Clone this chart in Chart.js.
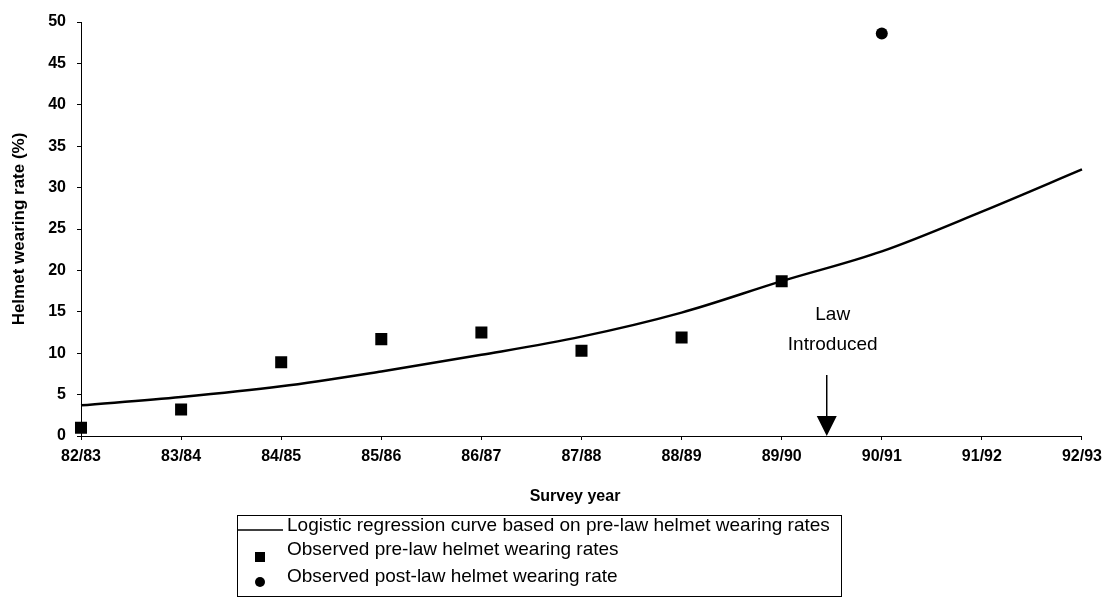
<!DOCTYPE HTML>
<html lang="en">
<head>
    <meta charset="UTF-8">
    <title>Helmet wearing rates</title>
    <script src="https://cdn.jsdelivr.net/npm/chart.js"></script>
    <style>
        body {
            margin: 0;
            padding: 0;
            background-color: #fff;
        }
        #wrap {
            position: relative;
            width: 1109px;
            height: 601px;
        }
    </style>
</head>
<body>
<div id="wrap">
    <canvas id="myChart" width="1109" height="601"></canvas>
</div>

<script>
    // Survey years (x categories)
    var years = ['82/83', '83/84', '84/85', '85/86', '86/87', '87/88', '88/89', '89/90', '90/91', '91/92', '92/93'];
    // Logistic regression curve
    var curve = [3.7, 4.7, 6.0, 7.8, 9.8, 12.0, 14.9, 18.7, 22.3, 27.1, 32.2];
    // Observed pre-law rates
    var preLaw = [1.0, 3.2, 8.9, 11.7, 12.5, 10.3, 11.9, 18.7, null, null, null];
    // Observed post-law rate
    var postLaw = [null, null, null, null, null, null, null, null, 48.6, null, null];
    // y ticks
    var yTicks = [0, 5, 10, 15, 20, 25, 30, 35, 40, 45, 50];
    // where the law came in (between 89/90 and 90/91)
    var lawAt = 7.45;

    var legendItems = [
        'Logistic regression curve based on pre-law helmet wearing rates',
        'Observed pre-law helmet wearing rates',
        'Observed post-law helmet wearing rate'
    ];

    // Подписи осей, стрелка "Law Introduced" и легенда
    var extras = {
        id: 'extras',
        afterDraw: function(chart) {
            var c = chart.ctx;
            var x = chart.scales.x;
            var y = chart.scales.y;
            c.save();
            c.fillStyle = '#000';
            c.strokeStyle = '#000';

            // axis titles
            c.font = 'bold 16px "Liberation Sans", Arial, sans-serif';
            c.textAlign = 'center';
            c.textBaseline = 'middle';
            c.fillText('Survey year', 575, 497);
            c.save();
            c.font = 'bold 17px "Liberation Sans", Arial, sans-serif';
            c.translate(19, (chart.chartArea.top + chart.chartArea.bottom) / 2);
            c.rotate(-Math.PI / 2);
            c.fillText('Helmet wearing rate (%)', 0, 0);
            c.restore();

            // law arrow
            var ax = x.getPixelForValue(lawAt);
            var ay = y.getPixelForValue(0);
            c.font = '19px "Liberation Sans", Arial, sans-serif';
            c.fillText('Law', ax + 6, 315);
            c.fillText('Introduced', ax + 6, 345);
            c.lineWidth = 1.5;
            c.beginPath();
            c.moveTo(ax, 375);
            c.lineTo(ax, ay - 18);
            c.stroke();
            c.beginPath();
            c.moveTo(ax - 10, ay - 20);
            c.lineTo(ax + 10, ay - 20);
            c.lineTo(ax, ay);
            c.closePath();
            c.fill();

            // legend box
            c.lineWidth = 1;
            c.strokeRect(237.5, 515.5, 604, 81);
            c.font = '19px "Liberation Sans", Arial, sans-serif';
            c.textAlign = 'left';
            c.fillText(legendItems[0], 287, 526);
            c.fillText(legendItems[1], 287, 550);
            c.fillText(legendItems[2], 287, 577);
            c.lineWidth = 1.5;
            c.beginPath();
            c.moveTo(238, 530);
            c.lineTo(283, 530);
            c.stroke();
            c.fillRect(255, 552, 10, 10);
            c.beginPath();
            c.arc(260, 582, 5, 0, Math.PI * 2);
            c.fill();
            c.restore();
        }
    };

    var ctx = document.getElementById('myChart').getContext('2d');
    var myChart = new Chart(ctx, {
        type: 'line',
        data: {
            labels: years,
            datasets: [
                {
                    label: legendItems[0],
                    data: curve,
                    borderColor: '#000',
                    borderWidth: 2.5,
                    pointRadius: 0,
                    cubicInterpolationMode: 'monotone'
                },
                {
                    label: legendItems[1],
                    data: preLaw,
                    showLine: false,
                    pointStyle: 'rect',
                    pointRadius: 8.5,
                    backgroundColor: '#000',
                    borderColor: '#000',
                    borderWidth: 0
                },
                {
                    label: legendItems[2],
                    data: postLaw,
                    showLine: false,
                    pointStyle: 'circle',
                    pointRadius: 6,
                    backgroundColor: '#000',
                    borderColor: '#000',
                    borderWidth: 0
                }
            ]
        },
        options: {
            responsive: false,
            animation: false,
            layout: {
                padding: { top: 22, right: 27, bottom: 105, left: 0 }
            },
            plugins: {
                legend: { display: false },
                tooltip: { enabled: false }
            },
            scales: {
                x: {
                    offset: false,
                    afterFit: function(scale) { scale.height = 60; },
                    grid: { drawOnChartArea: false, color: '#000', tickLength: 4 },
                    border: { color: '#000', width: 1 },
                    ticks: {
                        color: '#000',
                        padding: 7,
                        maxRotation: 0,
                        autoSkip: false,
                        font: { family: '"Liberation Sans", Arial, sans-serif', size: 16, weight: 'bold' }
                    }
                },
                y: {
                    min: 0,
                    max: 50,
                    afterFit: function(scale) { scale.width = 81; },
                    afterBuildTicks: function(scale) {
                        scale.ticks = yTicks.map(function(v) { return { value: v }; });
                    },
                    grid: { drawOnChartArea: false, color: '#000', tickLength: 4 },
                    border: { color: '#000', width: 1 },
                    ticks: {
                        color: '#000',
                        padding: 11,
                        font: { family: '"Liberation Sans", Arial, sans-serif', size: 16, weight: 'bold' }
                    }
                }
            }
        },
        plugins: [extras]
    });
</script>
</body>
</html>
